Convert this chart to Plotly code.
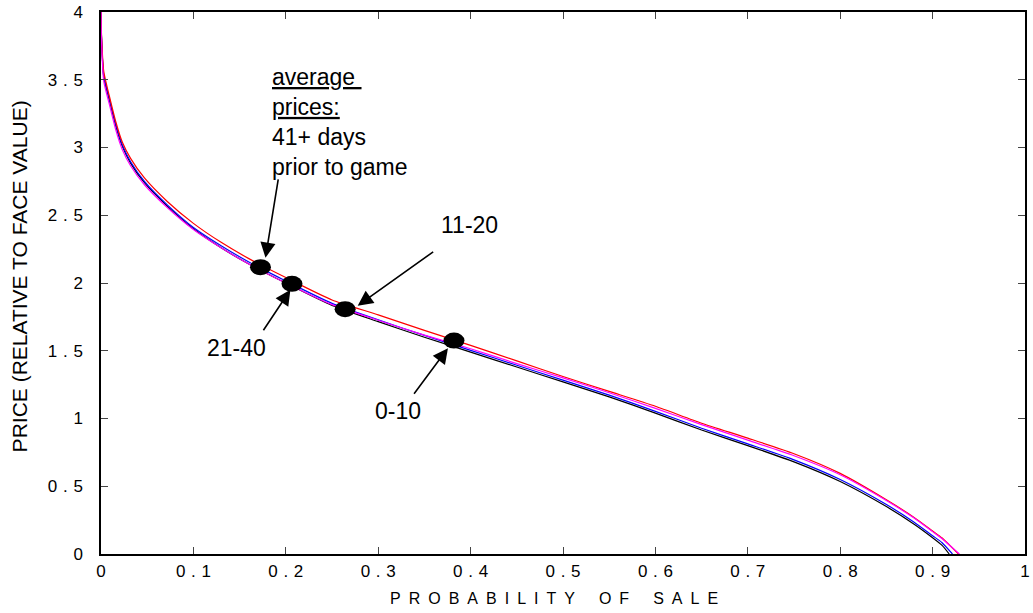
import plotly.graph_objects as go

# ---- data ----
x_grid = [0, 0.0005, 0.003, 0.009, 0.016, 0.023, 0.032, 0.047, 0.072, 0.1, 0.13, 0.16,
          0.2, 0.25, 0.3, 0.35, 0.4, 0.45, 0.5, 0.55, 0.6, 0.65, 0.7, 0.75, 0.8, 0.85,
          0.88, 0.9, 0.91]

black_x = x_grid + [0.918]
black_y = [4.0, 3.82, 3.52, 3.35, 3.16, 3.01, 2.885, 2.74, 2.565, 2.40, 2.26, 2.14,
           2.0, 1.835, 1.715, 1.60, 1.49, 1.38, 1.27, 1.16, 1.04, 0.915, 0.80, 0.68,
           0.535, 0.35, 0.22, 0.12, 0.065, 0.0]

blue_x = x_grid + [0.9215]
blue_y = [4.0, 3.82, 3.53, 3.36, 3.17, 3.02, 2.895, 2.75, 2.575, 2.41, 2.275, 2.155,
          2.015, 1.85, 1.728, 1.613, 1.503, 1.393, 1.283, 1.173, 1.053, 0.928, 0.813, 0.695,
          0.55, 0.365, 0.235, 0.135, 0.085, 0.0]

red_x = x_grid + [0.928]
red_y = [4.0, 3.84, 3.56, 3.38, 3.19, 3.04, 2.92, 2.775, 2.60, 2.44, 2.30, 2.18,
         2.04, 1.875, 1.765, 1.65, 1.54, 1.425, 1.31, 1.20, 1.09, 0.965, 0.855, 0.74,
         0.595, 0.40, 0.27, 0.17, 0.12, 0.0]

magenta_x = x_grid + [0.929]
magenta_y = [4.0, 3.80, 3.49, 3.32, 3.13, 2.985, 2.865, 2.725, 2.555, 2.395, 2.26, 2.14,
             2.0, 1.84, 1.725, 1.615, 1.515, 1.405, 1.30, 1.19, 1.075, 0.955, 0.84, 0.725,
             0.585, 0.395, 0.265, 0.165, 0.115, 0.0]

# average-price dots: 41+, 21-40, 11-20, 0-10 days prior to game
dot_x = [0.1726, 0.2067, 0.2642, 0.382]
dot_y = [2.117, 1.994, 1.807, 1.575]

sp = "\u2004"
x_ticks = [0, 0.1, 0.2, 0.3, 0.4, 0.5, 0.6, 0.7, 0.8, 0.9, 1]
x_ticktext = ["0"] + ["0" + sp + "." + sp + str(d) for d in range(1, 10)] + ["1"]
y_ticks = [0, 0.5, 1, 1.5, 2, 2.5, 3, 3.5, 4]
y_ticktext = ["0", "0" + sp + "." + sp + "5", "1", "1" + sp + "." + sp + "5", "2",
              "2" + sp + "." + sp + "5", "3", "3" + sp + "." + sp + "5", "4"]

x_title = "\u2002".join("PROBABILITY") + "\u2002\u2002\u2002" + "\u2002".join("OF") \
          + "\u2002\u2002\u2002" + "\u2002".join("SALE")
y_title = "PRICE (RELATIVE TO FACE VALUE)"

FONT = "Liberation Sans, Arial, Helvetica, sans-serif"

fig = go.Figure()
for xs, ys, col in [(black_x, black_y, "#000000"), (blue_x, blue_y, "#0000ff"),
                    (red_x, red_y, "#ff0000"), (magenta_x, magenta_y, "#ff00ff")]:
    fig.add_trace(go.Scatter(x=xs, y=ys, mode="lines",
                             line=dict(color=col, width=1.2, shape="spline", smoothing=0.6),
                             showlegend=False, hoverinfo="skip"))

for dx, dy in zip(dot_x, dot_y):
    fig.add_shape(type="circle", xref="x", yref="y", xsizemode="pixel", ysizemode="pixel",
                  xanchor=dx, yanchor=dy, x0=-10.5, x1=10.5, y0=-8, y1=8,
                  fillcolor="black", line=dict(color="black", width=0))

annots = []
# arrows: tip (data), tail offset (pixels)
arrow_tips_x = [0.178, 0.205, 0.2778, 0.3755]
arrow_tips_y = [2.186, 1.95, 1.832, 1.519]
arrow_ax = [13, -28, 77, -35]
arrow_ay = [-80, 42, -55, 47]
for tx, ty, ax, ay in zip(arrow_tips_x, arrow_tips_y, arrow_ax, arrow_ay):
    annots.append(dict(x=tx, y=ty, xref="x", yref="y", ax=ax, ay=ay, text="",
                       showarrow=True, arrowhead=2, arrowsize=1.9, arrowwidth=1.6,
                       arrowcolor="black"))

label_text = ["11-20", "21-40", "0-10"]
label_x = [0.3993, 0.1466, 0.3213]
label_y = [2.43, 1.521, 1.056]
for t, lx, ly in zip(label_text, label_x, label_y):
    annots.append(dict(x=lx, y=ly, xref="x", yref="y", text=t, showarrow=False,
                       font=dict(family=FONT, size=23, color="black"),
                       xanchor="center", yanchor="middle"))

annots.append(dict(x=0.1834, y=3.63, xref="x", yref="y",
                   text="<u>average\u00a0</u><br><u>prices:</u><br>41+ days<br>prior to game",
                   showarrow=False, align="left", xanchor="left", yanchor="top",
                   font=dict(family=FONT, size=23, color="black")))

# axis titles
annots.append(dict(x=0.4898, y=-0.0812, xref="paper", yref="paper", text=x_title,
                   showarrow=False, xanchor="center", yanchor="middle",
                   font=dict(family=FONT, size=16, color="black")))
annots.append(dict(x=-0.0872, y=0.513, xref="paper", yref="paper", text=y_title,
                   showarrow=False, xanchor="center", yanchor="middle", textangle=-90,
                   font=dict(family=FONT, size=21, color="black")))

fig.update_layout(
    width=1033, height=613,
    margin=dict(l=101, r=3, t=12, b=59),
    paper_bgcolor="white", plot_bgcolor="white",
    font=dict(family=FONT, color="black"),
    annotations=annots,
    xaxis=dict(range=[0, 1], tickvals=x_ticks, ticktext=x_ticktext,
               ticks="inside", ticklen=7, tickcolor="#444", tickwidth=1,
               showline=True, linecolor="black", linewidth=1.5, mirror="ticks",
               showgrid=False, zeroline=False, tickfont=dict(size=17),
               ticklabelstandoff=1),
    yaxis=dict(range=[0, 4], tickvals=y_ticks, ticktext=y_ticktext,
               ticks="inside", ticklen=7, tickcolor="#444", tickwidth=1,
               showline=True, linecolor="black", linewidth=1.5, mirror="ticks",
               showgrid=False, zeroline=False, tickfont=dict(size=17),
               ticklabelstandoff=13),
)

fig.write_html("out.html")
